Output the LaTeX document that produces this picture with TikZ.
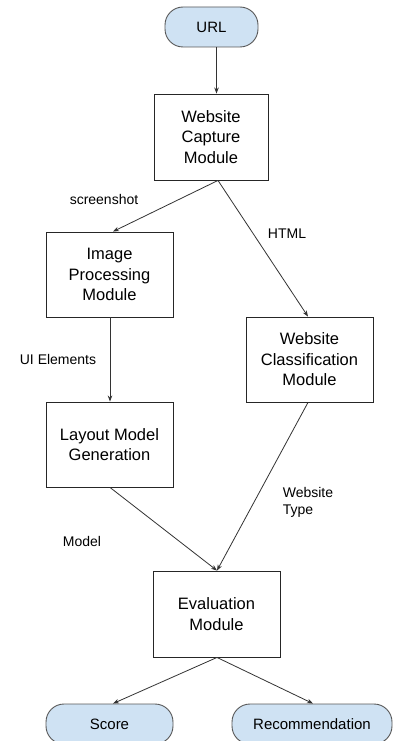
\documentclass[tikz,border=0pt]{standalone}
\usepackage{fontspec}
\setmainfont{Liberation Sans}
\usetikzlibrary{arrows.meta,calc}
\definecolor{termfill}{HTML}{CFE2F3}
\definecolor{linec}{HTML}{333333}
\begin{document}
\begin{tikzpicture}[x=1pt,y=-1pt,
  box/.style={draw=black!85,line width=0.9pt,fill=white,align=center,inner sep=0pt,font=\fontsize{16.5}{20.5}\selectfont},
  term/.style={draw=black!65,line width=0.9pt,fill=termfill,rounded corners=18pt,inner sep=0pt,font=\fontsize{15}{18}\selectfont},
  conn/.style={draw=linec,line width=0.8pt,-{Stealth[length=6pt,width=4.5pt]}},
  lbl/.style={font=\fontsize{14}{17}\selectfont,inner sep=0pt,align=left}]
\useasboundingbox[fill=white] (0,0) rectangle (393,741);
\node[term,minimum width=93pt,minimum height=40pt] (url) at (211.5,27) {URL};
\node[box,minimum width=114pt,minimum height=86pt] (cap) at (211,137) {Website\\Capture\\Module};
\node[box,minimum width=127pt,minimum height=85pt] (img) at (109.5,274.5) {Image\\Processing\\Module};
\node[box,minimum width=127pt,minimum height=85pt] (cls) at (309.5,359.5) {Website\\Classification\\Module};
\node[box,minimum width=127pt,minimum height=85pt] (lay) at (109.5,444.5) {Layout Model\\Generation};
\node[box,minimum width=127pt,minimum height=86pt] (eva) at (216.5,614) {Evaluation\\Module};
\node[term,minimum width=127pt,minimum height=40pt] (sco) at (109.5,724) {Score};
\node[term,minimum width=160pt,minimum height=40pt] (rec) at (312,724) {Recommendation};
\node[lbl] (l1) at (104,199) {screenshot};
\node[lbl] (l2) at (287,234) {HTML};
\node[lbl] (l3) at (58,359) {UI Elements};
\node[lbl] (l4) at (308,502) {Website\\Type};
\node[lbl] (l5) at (82,541) {Model};
\draw[conn] ([xshift=5pt]url.south) -- ([xshift=5.5pt]cap.north);
\draw[conn] ([xshift=7pt]cap.south) -- ([xshift=3.5pt]img.north);
\draw[conn] ([xshift=7pt]cap.south) -- ([xshift=-1.5pt]cls.north);
\draw[conn] ([xshift=0.5pt]img.south) -- ([xshift=0.5pt]lay.south |- lay.north);
\draw[conn] ([xshift=0.5pt]lay.south) -- ([xshift=0.5pt]eva.north);
\draw[conn] ([xshift=-1.5pt]cls.south) -- ([xshift=0.5pt]eva.north);
\draw[conn] ([xshift=0.5pt]eva.south) -- ([xshift=3.5pt]sco.north);
\draw[conn] ([xshift=0.5pt]eva.south) -- ([xshift=1pt]rec.north);
\end{tikzpicture}
\end{document}
